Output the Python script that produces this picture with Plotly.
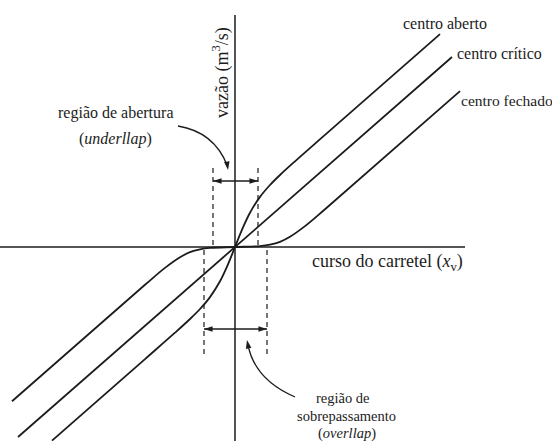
import plotly.graph_objects as go

# Spool-valve flow characteristics (schematic): flow Q versus spool stroke x_v
x_critico = [-217, 217]
q_critico = [-190, 190]

# open centre (underlap)
x_aberto = [-183, -90, -60, -45, -35, -25, -15, -8, 0, 8, 15, 25, 35, 45, 60, 90, 205]
q_aberto = [-193.6, -112.1, -85.7, -72.0, -62.0, -50.1, -34.3, -19.6, 0,
            19.6, 34.3, 50.1, 62.0, 72.0, 85.7, 112.1, 212.9]

# closed centre (overlap)
x_fechado = [-223, -90, -70, -55, -45, -35, -25, 0, 25, 35, 45, 55, 70, 90, 225]
q_fechado = [-154.2, -37.8, -20.9, -10.3, -5.2, -2.3, -0.9, 0,
             0.9, 2.3, 5.2, 10.3, 20.9, 37.8, 155.9]

# region limits
underlap = [-22, 23]
overlap = [-31, 32]

INK = "#1c1c1c"
FONT = "Liberation Serif, Times New Roman, serif"

fig = go.Figure()

line_style = dict(color=INK, width=1.8)
fig.add_trace(go.Scatter(x=x_aberto, y=q_aberto, mode="lines",
                         line=dict(**line_style, shape="spline", smoothing=1.0),
                         name="centro aberto"))
fig.add_trace(go.Scatter(x=x_critico, y=q_critico, mode="lines",
                         line=line_style, name="centro crítico"))
fig.add_trace(go.Scatter(x=x_fechado, y=q_fechado, mode="lines",
                         line=dict(**line_style, shape="spline", smoothing=1.0),
                         name="centro fechado"))

# double-headed dimension arrows (tips of the "arrow" symbol sit on the point)
for xs, yv in ((underlap, 66), (overlap, -82)):
    fig.add_trace(go.Scatter(
        x=xs, y=[yv, yv], mode="lines+markers",
        line=dict(color=INK, width=1.3),
        marker=dict(symbol="arrow", size=9, angle=[-90, 90], color=INK,
                    line=dict(width=0)),
        hoverinfo="skip"))

# heads of the curved pointers
fig.add_trace(go.Scatter(
    x=[-7, 12], y=[77, -93], mode="markers",
    marker=dict(symbol="arrow", size=9, angle=[172, -11], color=INK,
                line=dict(width=0)),
    hoverinfo="skip"))

shapes = []
# axes
shapes.append(dict(type="line", x0=-235, x1=230, y0=0, y1=0,
                   line=dict(color=INK, width=1.5)))
shapes.append(dict(type="line", x0=0, x1=0, y0=-200, y1=232,
                   line=dict(color=INK, width=1.5)))
# dashed limits of the regions
for xv in underlap:
    shapes.append(dict(type="line", x0=xv, x1=xv, y0=2, y1=82,
                       line=dict(color=INK, width=1.2, dash="5px,4px")))
for xv in overlap:
    shapes.append(dict(type="line", x0=xv, x1=xv, y0=-3, y1=-111,
                       line=dict(color=INK, width=1.2, dash="5px,4px")))
# curved pointers
shapes.append(dict(type="path", path="M -57,121 Q -21,115 -8,82",
                   line=dict(color=INK, width=1.3)))
shapes.append(dict(type="path", path="M 60,-150 Q 20,-133 13,-98",
                   line=dict(color=INK, width=1.3)))
for s in shapes:
    s.setdefault("xref", "x")
    s.setdefault("yref", "y")
    s["layer"] = "below"

annotations = []


def label(x, y, text, size=14, xanchor="center", angle=0):
    annotations.append(dict(x=x, y=y, xref="x", yref="y", text=text,
                            showarrow=False, xanchor=xanchor, yanchor="middle",
                            textangle=angle,
                            font=dict(family=FONT, size=size, color=INK)))


label(-14, 174, "vazão (m<sup>3</sup>/s)", size=18, angle=-90)
label(75, -15, "curso do carretel (<i>x</i><sub>v</sub>)", size=18, xanchor="left")
label(210, 224, "centro aberto", size=16)
label(220, 194, "centro crítico", size=16, xanchor="left")
label(224, 147, "centro fechado", size=15.5, xanchor="left")
label(-120, 134, "região de abertura", size=16)
label(-120, 108, "(<i>underllap</i>)", size=16)
label(108, -151, "região de", size=14.5)
label(111, -169, "sobrepassamento", size=14.5)
label(112, -186, "(<i>overllap</i>)", size=14.5)

fig.update_layout(
    width=552, height=441, autosize=False,
    margin=dict(l=0, r=0, t=0, b=0),
    paper_bgcolor="white", plot_bgcolor="white",
    showlegend=False,
    font=dict(family=FONT, color=INK),
    xaxis=dict(range=[-235, 317], visible=False, fixedrange=True),
    yaxis=dict(range=[-194, 247], visible=False, fixedrange=True),
    shapes=shapes, annotations=annotations,
)

fig.write_html("out.html")
